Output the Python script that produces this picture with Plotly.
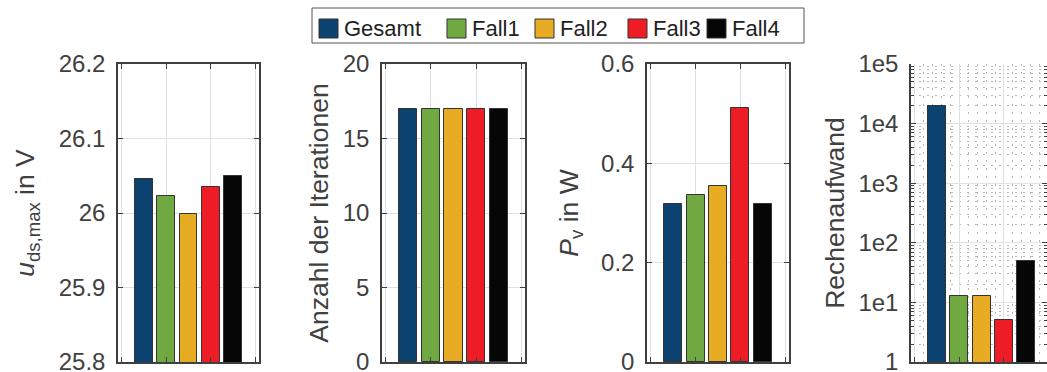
import plotly.graph_objects as go

categories = ["Gesamt", "Fall1", "Fall2", "Fall3", "Fall4"]
bar_colors = ["#0b426f", "#70a942", "#e8ac24", "#ee1c25", "#060606"]

u_ds_max = [26.046, 26.023, 25.998, 26.035, 26.050]
iterationen = [17, 17, 17, 17, 17]
p_v = [0.319, 0.337, 0.355, 0.511, 0.319]
rechenaufwand = [2.0e4, 13, 13, 5, 50]

y_titles = ["<i>u</i><sub>ds,max</sub> in V", "Anzahl der Iterationen",
            "<i>P</i><sub>v</sub> in W", "Rechenaufwand"]
log_ticks = [1, 10, 100, 1000, 10000, 100000]
log_ticktext = ["1", "1e1", "1e2", "1e3", "1e4", "1e5"]

W, H = 1047, 372
FONT = "Liberation Sans, Arial, sans-serif"
AX = "#404040"
GRID = "#e0e0e0"
TICK_SIZE = 24
TITLE_SIZE = 26.5

panels_px = [(118, 259), (382, 525), (647, 789), (911, 1047)]
title_standoff = [16, 6, 15, 6]
ydom = [(372 - 362) / H, (372 - 64) / H]

fig = go.Figure()
series = [u_ds_max, iterationen, p_v, rechenaufwand]
for p, vals in enumerate(series):
    xa = "x" if p == 0 else f"x{p+1}"
    ya = "y" if p == 0 else f"y{p+1}"
    for i, (cat, v) in enumerate(zip(categories, vals)):
        fig.add_trace(go.Bar(
            x=[i + 1], y=[v], width=0.8, name=cat,
            marker=dict(color=bar_colors[i], line=dict(color="#333333", width=1)),
            legendgroup=cat, showlegend=False,
            xaxis=xa, yaxis=ya, hovertemplate=f"{cat}: %{{y}}<extra></extra>"))

common = dict(showline=True, linecolor=AX, linewidth=1.5, mirror="ticks",
              ticks="inside", ticklen=5, tickcolor=AX, tickwidth=1,
              showgrid=True, gridcolor=GRID, gridwidth=1, zeroline=False,
              tickfont=dict(size=TICK_SIZE, color=AX, family=FONT), automargin=False)

layout = {}
for p in range(4):
    x0, x1 = panels_px[p]
    xkey = "xaxis" if p == 0 else f"xaxis{p+1}"
    ykey = "yaxis" if p == 0 else f"yaxis{p+1}"
    xanchor = "y" if p == 0 else f"y{p+1}"
    yanchor = "x" if p == 0 else f"x{p+1}"
    xright = 6.17 if p < 3 else -0.17 + (x1 - x0) / 22.3
    xa = dict(common, domain=[x0 / W, x1 / W], anchor=xanchor,
              range=[-0.17, xright], tickmode="linear", tick0=0, dtick=2,
              showticklabels=False)
    if p == 3:
        xa["mirror"] = False
        xa["minor"] = dict(tickmode="linear", tick0=0, dtick=0.4, showgrid=True,
                           gridcolor="#b8b8b8", griddash="2px,6px", ticks="")
    ya = dict(common, domain=ydom, anchor=yanchor, ticklabeloverflow="allow",
              ticklabelstandoff=6,
              title=dict(text=y_titles[p], font=dict(size=TITLE_SIZE, color=AX, family=FONT),
                         standoff=title_standoff[p]))
    if p == 0:
        ya.update(range=[25.8, 26.2], tickmode="array",
                  tickvals=[25.8, 25.9, 26.0, 26.1, 26.2],
                  ticktext=["25.8", "25.9", "26", "26.1", "26.2"])
    elif p == 1:
        ya.update(range=[0, 20], tickmode="linear", tick0=0, dtick=5)
    elif p == 2:
        ya.update(range=[0, 0.6], tickmode="array", tickvals=[0, 0.2, 0.4, 0.6],
                  ticktext=["0", "0.2", "0.4", "0.6"])
    else:
        ya.update(type="log", range=[0, 5], tickmode="array", tickvals=log_ticks,
                  ticktext=log_ticktext,
                  minor=dict(dtick="D1", ticks="inside", ticklen=3, tickcolor=AX,
                             showgrid=True, gridcolor="#b8b8b8", griddash="2px,6px"))
    layout[xkey] = xa
    layout[ykey] = ya

# legend drawn as a box with colour swatches and text (layout positions in px)
legend_box = (312, 804, 8, 43)
legend_sym_x = [319, 447, 535, 628, 707]
sym_w, sym_y0, sym_y1 = 19, 19, 38
shapes = [dict(type="rect", xref="paper", yref="paper",
               x0=legend_box[0] / W, x1=legend_box[1] / W,
               y0=(H - legend_box[3]) / H, y1=(H - legend_box[2]) / H,
               line=dict(color="#555555", width=1), fillcolor="white", layer="above")]
annotations = []
for i, cat in enumerate(categories):
    sx = legend_sym_x[i]
    shapes.append(dict(type="rect", xref="paper", yref="paper",
                       x0=sx / W, x1=(sx + sym_w) / W,
                       y0=(H - sym_y1) / H, y1=(H - sym_y0) / H,
                       line=dict(color="#333333", width=1), fillcolor=bar_colors[i],
                       layer="above"))
    annotations.append(dict(text=cat, xref="paper", yref="paper",
                            x=(sx + sym_w + 4) / W, y=(H - 28.5) / H,
                            xanchor="left", yanchor="middle", showarrow=False,
                            font=dict(size=22, color="#222222", family=FONT)))

fig.update_layout(
    width=W, height=H, margin=dict(l=0, r=0, t=0, b=0),
    paper_bgcolor="white", plot_bgcolor="white",
    font=dict(family=FONT, size=22, color=AX),
    bargap=0, showlegend=False,
    shapes=shapes, annotations=annotations,
    **layout)

fig.write_html("out.html", config={"displayModeBar": False},
               post_script="document.body.style.margin='0';document.body.style.overflow='hidden';")
